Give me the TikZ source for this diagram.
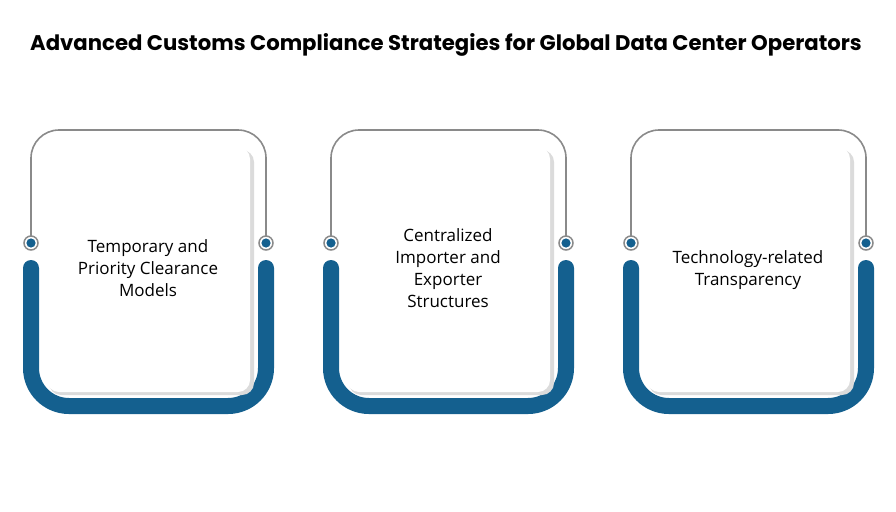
\documentclass[tikz,border=0pt]{standalone}
\usepackage{fontspec}
\setmainfont{Open Sans}
\newfontfamily\titlefont{Poppins}
\definecolor{cblue}{HTML}{14608F}
\definecolor{cgray}{HTML}{8A8A8A}
\begin{document}
\begin{tikzpicture}[x=1pt,y=-1pt,
  frame/.style={draw=cgray,line width=1.6pt,rounded corners=28pt},
  ubar/.style={draw=cblue,line width=16pt,line cap=round,rounded corners=38pt},
  dot/.style={circle,draw=cgray,line width=1.5pt,fill=white,minimum size=14pt,inner sep=0pt},
  card/.style={fill=white,rounded corners=12pt},
  shadow/.style={fill=black!14,rounded corners=12pt},
  lbl/.style={align=center,font=\fontsize{17pt}{22pt}\selectfont,text=black}]
\useasboundingbox (0,0) rectangle (896,511);
\node[font=\titlefont\bfseries\fontsize{21.2pt}{24pt}\selectfont] (title) at (446,45) {Advanced Customs Compliance Strategies for Global Data Center Operators};
\foreach \i/\t/\y in {0/{Temporary and\\Priority Clearance\\Models}/268,1/{Centralized\\Importer and\\Exporter\\Structures}/268,2/{Technology-related\\Transparency}/270}{
  \begin{scope}[xshift=\i*300pt]
  \draw[frame] (31,237) -- (31,130) -- (266,130) -- (266,237);
  \draw[ubar] (31,268) -- (31,406) -- (266,406) -- (266,268);
  \fill[shadow] (49,150) rectangle (254,395);
  \fill[card] (47,147) rectangle (250,392);
  \node[dot] (l\i) at (31,243) {};
  \node[dot] (r\i) at (266,243) {};
  \fill[cblue] (l\i.center) circle (4.6pt);
  \fill[cblue] (r\i.center) circle (4.6pt);
  \node[lbl] (t\i) at (148,\y) {\t};
  \end{scope}
}
\end{tikzpicture}
\end{document}
